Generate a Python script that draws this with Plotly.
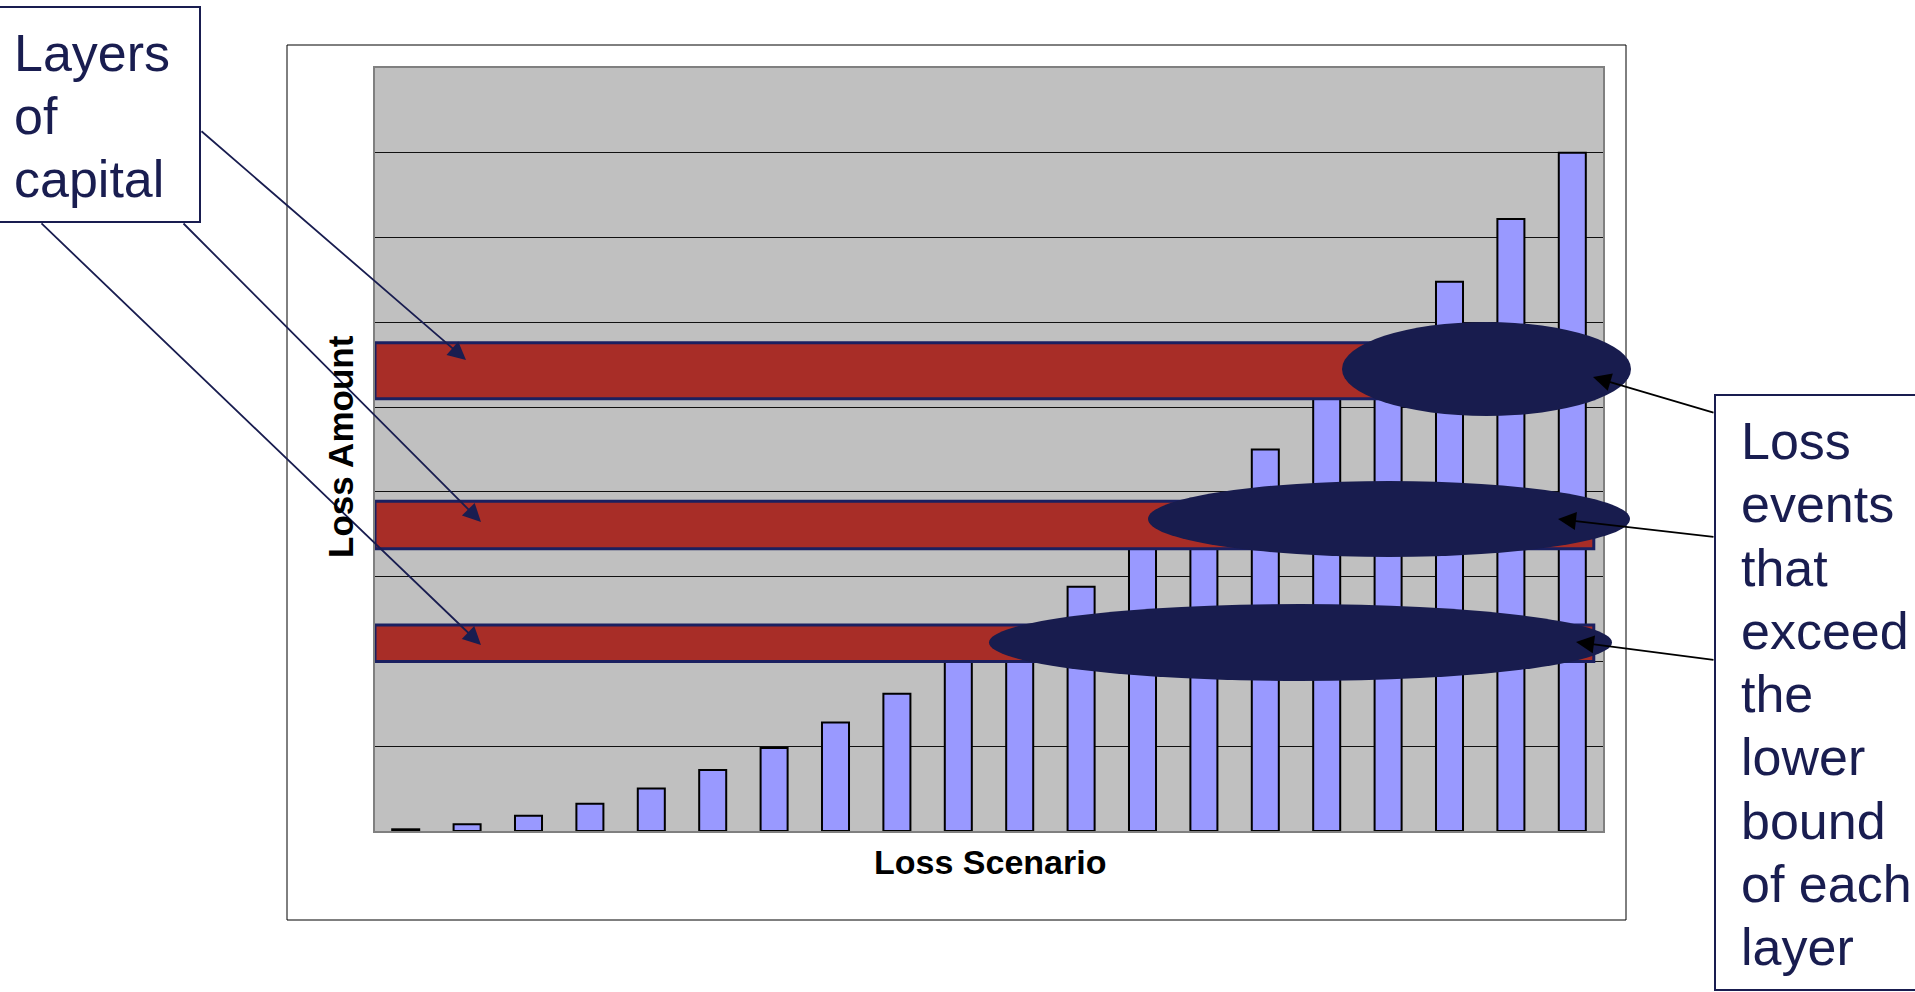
import plotly.graph_objects as go

# ---- data ----
scenarios = list(range(1, 21))
loss_amount = [0.02, 0.08, 0.18, 0.32, 0.50, 0.72, 0.98, 1.28, 1.62, 2.00,
               2.42, 2.88, 3.38, 3.92, 4.50, 5.12, 5.78, 6.48, 7.22, 8.00]
layer_low = [2.00, 3.33, 5.10]
layer_high = [2.43, 3.89, 5.76]
left_lines = ["Layers", "of", "capital"]
right_lines = ["Loss", "events", "that", "exceed", "the", "lower", "bound", "of each", "layer"]

W, H = 1915, 992
ML, MR, MT, MB = 375, 312, 68, 161
PW, PH = W - ML - MR, H - MT - MB
NAVY = "#191D50"


def px(x):
    return (x - ML) / PW


def py(y):
    return (H - MB - y) / PH


fig = go.Figure()
fig.add_trace(go.Bar(
    x=scenarios, y=loss_amount, width=0.44,
    marker=dict(color="#9999FF", line=dict(color="black", width=2)),
    showlegend=False, hoverinfo="skip"))

shapes = []
# outer chart frame
shapes.append(dict(type="rect", xref="paper", yref="paper", layer="below",
                   x0=px(287), x1=px(1626), y0=py(45), y1=py(920),
                   line=dict(color="black", width=1), fillcolor="rgba(0,0,0,0)"))
# capital layers
for lo, hi in zip(layer_low, layer_high):
    shapes.append(dict(type="rect", xref="x", yref="y", x0=0.5, x1=20.35, y0=lo, y1=hi,
                       fillcolor="#A82D27", line=dict(color="#1B2060", width=3)))
# ellipses (loss events exceeding lower bound)
for (x0, x1, y0, y1) in [(1342, 1631, 322, 416), (1148, 1630, 481, 557), (989, 1612, 604, 681)]:
    shapes.append(dict(type="circle", xref="paper", yref="paper",
                       x0=px(x0), x1=px(x1), y0=py(y1), y1=py(y0),
                       fillcolor="#181C4E", line=dict(width=0)))
# text boxes
shapes.append(dict(type="rect", xref="paper", yref="paper",
                   x0=px(-5), x1=px(200), y0=py(222), y1=py(7),
                   fillcolor="white", line=dict(color=NAVY, width=2)))
shapes.append(dict(type="rect", xref="paper", yref="paper",
                   x0=px(1715), x1=px(1930), y0=py(990), y1=py(395),
                   fillcolor="white", line=dict(color=NAVY, width=2)))

annotations = []
for i, t in enumerate(left_lines):
    base = 71 + 63 * i
    annotations.append(dict(text=t, xref="paper", yref="paper", x=px(12), y=py(base - 18),
                            xanchor="left", yanchor="middle", showarrow=False,
                            font=dict(family="Liberation Sans, Arial", size=52, color=NAVY)))
for i, t in enumerate(right_lines):
    base = 459 + 63.25 * i
    annotations.append(dict(text=t, xref="paper", yref="paper", x=px(1739), y=py(base - 18),
                            xanchor="left", yanchor="middle", showarrow=False,
                            font=dict(family="Liberation Sans, Arial", size=52, color=NAVY)))

# arrows: (tail, tip, color)
arrows = [((200, 130), (466, 360), NAVY),
          ((182, 222), (481, 522), NAVY),
          ((40, 222), (481, 645), NAVY),
          ((1715, 413), (1593, 377), "black"),
          ((1715, 537), (1558, 519), "black"),
          ((1715, 660), (1576, 642), "black")]
for (tx, ty), (hx, hy), c in arrows:
    annotations.append(dict(text="", xref="paper", yref="paper", x=px(hx), y=py(hy),
                            axref="pixel", ayref="pixel", ax=tx - hx, ay=ty - hy,
                            showarrow=True, arrowhead=2, arrowsize=2.0, arrowwidth=1.8,
                            arrowcolor=c, standoff=0))

# axis titles
annotations.append(dict(text="<b>Loss Scenario</b>", xref="paper", yref="paper",
                        x=px(990), y=py(862), xanchor="center", yanchor="middle", showarrow=False,
                        font=dict(family="Liberation Sans, Arial", size=34, color="black")))
annotations.append(dict(text="<b>Loss Amount</b>", xref="paper", yref="paper", textangle=-90,
                        x=px(340), y=py(447), xanchor="center", yanchor="middle", showarrow=False,
                        font=dict(family="Liberation Sans, Arial", size=35, color="black")))

fig.update_layout(
    width=W, height=H, autosize=False,
    margin=dict(l=ML, r=MR, t=MT, b=MB, pad=0),
    paper_bgcolor="white", plot_bgcolor="#C0C0C0",
    shapes=shapes, annotations=annotations, bargap=0.56,
    xaxis=dict(range=[0.5, 20.5], showticklabels=False, ticks="", showgrid=False, zeroline=False,
               showline=True, linecolor="#808080", linewidth=2, mirror=True, fixedrange=True),
    yaxis=dict(range=[0, 9], dtick=1, showticklabels=False, ticks="", showgrid=True,
               gridcolor="#111111", gridwidth=1, zeroline=False,
               showline=True, linecolor="#808080", linewidth=2, mirror=True, fixedrange=True),
)

fig.write_html("out.html", config={"displayModeBar": False})
